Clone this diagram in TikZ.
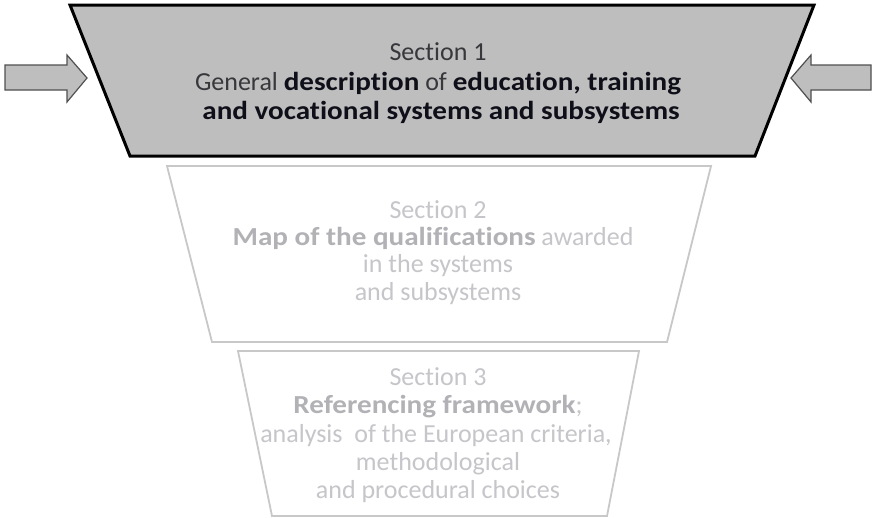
\documentclass[tikz,border=0pt]{standalone}
\usepackage{fontspec}
\setmainfont{Carlito}[Ligatures=NoCommon, BoldFeatures={FakeStretch=1.12}]
\definecolor{boxgray}{RGB}{190,190,190}
\definecolor{darktxt}{RGB}{55,55,60}
\definecolor{blacktxt}{RGB}{15,15,25}
\definecolor{faintline}{RGB}{200,200,200}
\definecolor{fainttxt}{RGB}{198,198,202}
\definecolor{faintbold}{RGB}{178,178,182}
\definecolor{arrowline}{RGB}{80,80,80}
\tikzset{
  mainbox/.style={fill=boxgray, draw=black, line width=3pt, line join=miter},
  faintbox/.style={draw=faintline, line width=1.8pt, line join=miter},
  blockarrow/.style={fill=boxgray, draw=arrowline, line width=1.2pt, line join=miter},
  lineone/.style={anchor=base, inner sep=0pt, font=\fontsize{26}{29}\selectfont, text=darktxt},
  linefaint/.style={anchor=base, inner sep=0pt, font=\fontsize{26}{29}\selectfont, text=fainttxt},
}
\begin{document}
\begin{tikzpicture}[x=1pt,y=-1pt]
\useasboundingbox (0,0) rectangle (874,517);
\fill[white] (0,0) rectangle (874,517);
% Section 1 trapezoid
\draw[mainbox] (70,5) -- (814,5) -- (755,156) -- (130,156) -- cycle;
% Section 2 trapezoid
\draw[faintbox] (167,166) -- (711,166) -- (667,342) -- (212,342) -- cycle;
% Section 3 trapezoid
\draw[faintbox] (238,351) -- (639,351) -- (607,516) -- (272,516) -- cycle;
% block arrows
\draw[blockarrow] (5,65) -- (67,65) -- (67,55) -- (87,78) -- (67,102) -- (67,90) -- (5,90) -- cycle;
\draw[blockarrow] (871,65) -- (811,65) -- (811,55) -- (791,78) -- (811,102) -- (811,90) -- (871,90) -- cycle;
% Section 1 text
\node[lineone] (s1a) at (438,60) {Section 1};
\node[lineone] (s1b) at (438,90) {General \textbf{\textcolor{blacktxt}{description}} of \textbf{\textcolor{blacktxt}{education, training}}};
\node[lineone] (s1c) at (441,119) {\textbf{\textcolor{blacktxt}{and vocational systems and subsystems}}};
% Section 2 text
\node[linefaint] (s2a) at (438,218) {Section 2};
\node[linefaint] (s2b) at (433,245) {\textbf{\textcolor{faintbold}{Map of the qualifications}} awarded};
\node[linefaint] (s2c) at (438,272) {in the systems};
\node[linefaint] (s2d) at (438,300) {and subsystems};
% Section 3 text
\node[linefaint] (s3a) at (438,385) {Section 3};
\node[linefaint] (s3b) at (438,413) {\textbf{\textcolor{faintbold}{Referencing framework}};};
\node[linefaint] (s3c) at (436,442) {analysis\ \ of the European criteria,};
\node[linefaint] (s3d) at (438,470) {methodological};
\node[linefaint] (s3e) at (438,498) {and procedural choices};
\end{tikzpicture}
\end{document}
